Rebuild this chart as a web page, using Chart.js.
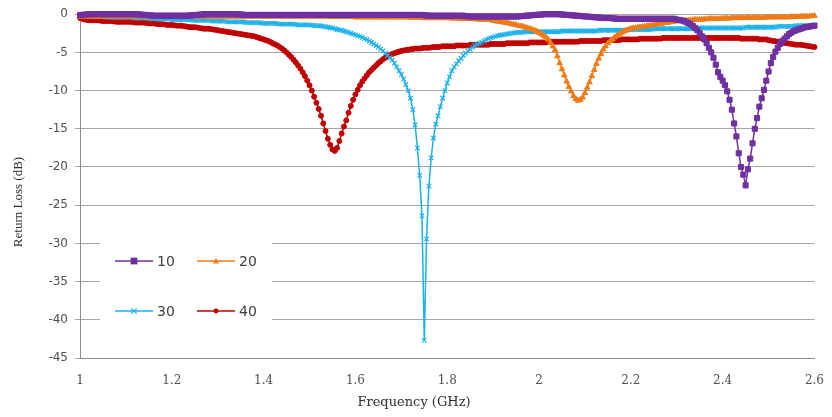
<!DOCTYPE html>
<html><head><meta charset="utf-8">
<script src="https://cdn.jsdelivr.net/npm/chart.js@4.4.1/dist/chart.umd.min.js"></script>
<style>html,body{margin:0;padding:0;background:#fff;}canvas{display:block;}</style>
</head><body>
<canvas id="c" width="832" height="417"></canvas>
<script>
// Frequency sweep (GHz), 0.005 GHz step from 1.000 to 2.600
const freq = Array.from({length: 321}, (_, i) => +(1 + i * 0.005).toFixed(3));
const seriesNames = ['10', '20', '30', '40'];
const xTicks = [1, 1.2, 1.4, 1.6, 1.8, 2, 2.2, 2.4, 2.6];
const yTicks = [0, -5, -10, -15, -20, -25, -30, -35, -40, -45];

const s10 = [
-0.1,-0.1,-0.05,-0.05,0,0,0,0,0,0, 0,0,0,0,0,0,0,0,0,0,
0,0,0,0,0,0,-0.05,-0.05,-0.1,-0.1, -0.15,-0.15,-0.2,-0.2,-0.2,-0.2,-0.2,-0.2,-0.2,-0.2,
-0.2,-0.2,-0.2,-0.2,-0.2,-0.2,-0.2,-0.2,-0.15,-0.15, -0.1,-0.1,-0.05,-0.05,0,0,0,0,0,0,
0,0,0,0,0,0,0,0,0,0, -0.05,-0.05,-0.1,-0.1,-0.1,-0.1,-0.1,-0.1,-0.1,-0.1,
-0.1,-0.1,-0.1,-0.1,-0.1,-0.1,-0.1,-0.1,-0.1,-0.1, -0.1,-0.1,-0.1,-0.1,-0.1,-0.1,-0.1,-0.1,-0.1,-0.1,
-0.1,-0.1,-0.1,-0.1,-0.1,-0.1,-0.1,-0.1,-0.1,-0.1, -0.1,-0.1,-0.1,-0.1,-0.1,-0.1,-0.1,-0.1,-0.1,-0.1,
-0.1,-0.1,-0.1,-0.1,-0.1,-0.1,-0.1,-0.1,-0.1,-0.1, -0.1,-0.1,-0.1,-0.1,-0.1,-0.1,-0.1,-0.1,-0.1,-0.1,
-0.1,-0.1,-0.1,-0.1,-0.1,-0.1,-0.1,-0.1,-0.1,-0.1, -0.15,-0.15,-0.2,-0.2,-0.2,-0.2,-0.2,-0.2,-0.2,-0.2,
-0.2,-0.2,-0.2,-0.2,-0.2,-0.2,-0.2,-0.2,-0.25,-0.25, -0.3,-0.3,-0.3,-0.3,-0.3,-0.3,-0.3,-0.3,-0.3,-0.3,
-0.3,-0.3,-0.3,-0.3,-0.3,-0.3,-0.3,-0.3,-0.3,-0.3, -0.3,-0.3,-0.25,-0.25,-0.2,-0.2,-0.15,-0.15,-0.1,-0.1,
-0.05,-0.05,0,0,0,0,0,0,0,0, -0.05,-0.05,-0.1,-0.1,-0.15,-0.15,-0.2,-0.2,-0.25,-0.25,
-0.3,-0.3,-0.35,-0.35,-0.4,-0.4,-0.45,-0.45,-0.5,-0.5, -0.5,-0.5,-0.55,-0.55,-0.6,-0.6,-0.6,-0.6,-0.6,-0.6,
-0.6,-0.6,-0.6,-0.6,-0.6,-0.6,-0.6,-0.6,-0.6,-0.6, -0.6,-0.6,-0.6,-0.6,-0.6,-0.6,-0.6,-0.6,-0.6,-0.6,
-0.7,-0.75,-0.8,-0.9,-1.0,-1.15,-1.3,-1.55,-1.8,-2.1, -2.5,-2.9,-3.3,-3.8,-4.4,-5.0,-5.7,-6.6,-7.6,-8.2,
-8.7,-9.3,-10.1,-11.2,-12.5,-14.3,-16.0,-18.2,-20.0,-21.0, -22.4,-20.3,-18.9,-16.9,-15.0,-13.6,-12.1,-11.0,-9.9,-8.7,
-7.5,-6.4,-5.6,-4.9,-4.4,-3.9,-3.5,-3.2,-2.9,-2.6, -2.4,-2.2,-2.1,-2.0,-1.9,-1.8,-1.7,-1.65,-1.6,-1.55,
-1.5];

const s20 = [
-0.3,-0.3,-0.3,-0.3,-0.3,-0.3,-0.3,-0.3,-0.3,-0.3, -0.3,-0.3,-0.3,-0.3,-0.3,-0.3,-0.3,-0.3,-0.3,-0.3,
-0.3,-0.3,-0.3,-0.3,-0.3,-0.3,-0.3,-0.3,-0.3,-0.3, -0.3,-0.3,-0.3,-0.3,-0.3,-0.3,-0.3,-0.3,-0.3,-0.3,
-0.3,-0.3,-0.3,-0.3,-0.3,-0.3,-0.3,-0.3,-0.3,-0.3, -0.3,-0.3,-0.3,-0.3,-0.3,-0.3,-0.3,-0.3,-0.3,-0.3,
-0.3,-0.3,-0.3,-0.3,-0.3,-0.3,-0.3,-0.3,-0.3,-0.3, -0.3,-0.3,-0.3,-0.3,-0.3,-0.3,-0.3,-0.3,-0.3,-0.3,
-0.3,-0.3,-0.3,-0.3,-0.3,-0.3,-0.3,-0.3,-0.3,-0.3, -0.3,-0.3,-0.3,-0.3,-0.3,-0.3,-0.3,-0.3,-0.3,-0.3,
-0.3,-0.3,-0.3,-0.3,-0.3,-0.3,-0.3,-0.3,-0.3,-0.3, -0.35,-0.35,-0.35,-0.35,-0.35,-0.35,-0.35,-0.35,-0.35,-0.35,
-0.4,-0.4,-0.4,-0.4,-0.4,-0.4,-0.4,-0.4,-0.4,-0.4, -0.4,-0.4,-0.4,-0.4,-0.4,-0.4,-0.4,-0.4,-0.4,-0.4,
-0.4,-0.4,-0.4,-0.4,-0.45,-0.45,-0.45,-0.45,-0.45,-0.45, -0.5,-0.5,-0.5,-0.5,-0.5,-0.5,-0.5,-0.5,-0.5,-0.5,
-0.5,-0.5,-0.55,-0.55,-0.55,-0.55,-0.6,-0.6,-0.6,-0.6, -0.6,-0.6,-0.65,-0.65,-0.7,-0.7,-0.7,-0.7,-0.75,-0.75,
-0.85,-0.9,-0.95,-1.0,-1.05,-1.1,-1.15,-1.2,-1.3,-1.35, -1.4,-1.5,-1.55,-1.6,-1.7,-1.8,-1.9,-2.0,-2.1,-2.25,
-2.4,-2.6,-2.8,-3.0,-3.3,-3.7,-4.2,-4.7,-5.5,-6.4, -7.2,-8.0,-8.8,-9.5,-10.1,-10.7,-11.1,-11.3,-11.2,-10.9,
-10.3,-9.6,-8.9,-8.1,-7.3,-6.5,-5.8,-5.2,-4.6,-4.2, -3.8,-3.5,-3.3,-3.0,-2.8,-2.6,-2.4,-2.25,-2.1,-2.0,
-1.9,-1.85,-1.8,-1.75,-1.7,-1.65,-1.6,-1.55,-1.5,-1.45, -1.4,-1.35,-1.3,-1.25,-1.2,-1.15,-1.1,-1.05,-1.0,-0.95,
-0.9,-0.9,-0.85,-0.85,-0.8,-0.8,-0.75,-0.75,-0.7,-0.7, -0.7,-0.7,-0.65,-0.65,-0.6,-0.6,-0.6,-0.6,-0.6,-0.6,
-0.55,-0.55,-0.55,-0.55,-0.5,-0.5,-0.5,-0.5,-0.5,-0.5, -0.45,-0.45,-0.45,-0.45,-0.45,-0.45,-0.45,-0.45,-0.45,-0.4,
-0.4,-0.4,-0.4,-0.4,-0.4,-0.4,-0.4,-0.4,-0.4,-0.4, -0.35,-0.35,-0.35,-0.35,-0.3,-0.3,-0.3,-0.3,-0.25,-0.25,
-0.2];

const s30 = [
-0.2,-0.2,-0.2,-0.25,-0.3,-0.3,-0.3,-0.3,-0.3,-0.3, -0.3,-0.35,-0.4,-0.4,-0.4,-0.4,-0.4,-0.4,-0.4,-0.4,
-0.4,-0.4,-0.4,-0.45,-0.5,-0.5,-0.5,-0.5,-0.5,-0.5, -0.5,-0.55,-0.6,-0.6,-0.6,-0.6,-0.6,-0.6,-0.6,-0.65,
-0.7,-0.7,-0.7,-0.7,-0.7,-0.7,-0.7,-0.7,-0.75,-0.8, -0.8,-0.8,-0.8,-0.8,-0.8,-0.8,-0.8,-0.85,-0.9,-0.9,
-0.9,-0.9,-0.9,-0.9,-1.0,-1.0,-1.0,-1.0,-1.0,-1.0, -1.0,-1.0,-1.05,-1.1,-1.1,-1.1,-1.1,-1.1,-1.1,-1.15,
-1.2,-1.2,-1.2,-1.2,-1.2,-1.2,-1.25,-1.3,-1.3,-1.3, -1.3,-1.3,-1.3,-1.3,-1.35,-1.4,-1.4,-1.4,-1.4,-1.4,
-1.4,-1.45,-1.5,-1.5,-1.5,-1.55,-1.6,-1.65,-1.7,-1.75, -1.8,-1.9,-2.0,-2.05,-2.1,-2.2,-2.3,-2.4,-2.5,-2.6,
-2.7,-2.8,-2.9,-3.05,-3.2,-3.35,-3.5,-3.7,-3.9,-4.1, -4.3,-4.55,-4.8,-5.1,-5.4,-5.7,-6.0,-6.4,-6.9,-7.4,
-7.9,-8.5,-9.2,-10.0,-11.0,-12.5,-14.5,-17.5,-21.1,-26.4, -42.7,-29.4,-22.5,-18.8,-16.2,-14.4,-13.3,-12.1,-11.0,-10.0,
-9.0,-8.2,-7.4,-6.9,-6.5,-6.1,-5.8,-5.4,-5.1,-4.8, -4.6,-4.35,-4.1,-3.95,-3.8,-3.65,-3.5,-3.35,-3.2,-3.1,
-3.0,-2.9,-2.8,-2.75,-2.7,-2.65,-2.6,-2.55,-2.5,-2.45, -2.4,-2.4,-2.4,-2.35,-2.3,-2.3,-2.3,-2.3,-2.3,-2.3,
-2.3,-2.3,-2.3,-2.3,-2.3,-2.3,-2.3,-2.3,-2.3,-2.3, -2.2,-2.2,-2.2,-2.2,-2.2,-2.2,-2.2,-2.2,-2.2,-2.2,
-2.2,-2.2,-2.2,-2.2,-2.2,-2.2,-2.1,-2.1,-2.1,-2.1, -2.1,-2.1,-2.1,-2.1,-2.1,-2.1,-2.1,-2.1,-2.1,-2.0,
-2.0,-2.0,-2.0,-2.0,-2.0,-2.0,-2.0,-2.0,-2.0,-2.0, -1.9,-1.9,-1.9,-1.9,-1.9,-1.9,-1.9,-1.9,-1.9,-1.9,
-1.9,-1.9,-1.9,-1.9,-1.9,-1.9,-1.9,-1.9,-1.9,-1.9, -1.8,-1.8,-1.8,-1.8,-1.8,-1.8,-1.8,-1.8,-1.8,-1.8,
-1.8,-1.8,-1.8,-1.8,-1.8,-1.8,-1.8,-1.8,-1.8,-1.8, -1.7,-1.7,-1.7,-1.7,-1.7,-1.7,-1.7,-1.7,-1.7,-1.7,
-1.7,-1.7,-1.7,-1.7,-1.6,-1.6,-1.6,-1.6,-1.6,-1.6, -1.6,-1.6,-1.5,-1.5,-1.5,-1.5,-1.5,-1.5,-1.5,-1.5,
-1.4];

const s40 = [
-0.5,-0.6,-0.7,-0.75,-0.8,-0.8,-0.8,-0.8,-0.8,-0.85, -0.9,-0.9,-0.9,-0.9,-0.9,-0.95,-1.0,-1.0,-1.0,-1.0,
-1.0,-1.0,-1.0,-1.05,-1.1,-1.1,-1.1,-1.1,-1.1,-1.15, -1.2,-1.2,-1.2,-1.25,-1.3,-1.3,-1.3,-1.35,-1.4,-1.4,
-1.4,-1.45,-1.5,-1.5,-1.5,-1.55,-1.6,-1.65,-1.7,-1.7, -1.7,-1.75,-1.8,-1.85,-1.9,-1.9,-1.9,-1.95,-2.0,-2.05,
-2.1,-2.15,-2.2,-2.25,-2.3,-2.35,-2.4,-2.45,-2.5,-2.55, -2.6,-2.65,-2.7,-2.75,-2.8,-2.85,-2.9,-3.0,-3.1,-3.2,
-3.3,-3.4,-3.5,-3.65,-3.8,-3.95,-4.1,-4.3,-4.5,-4.75, -5.0,-5.3,-5.6,-5.95,-6.3,-6.7,-7.1,-7.6,-8.1,-8.7,
-9.3,-10.0,-10.8,-11.6,-12.4,-13.3,-14.3,-15.3,-16.3,-17.1, -17.7,-17.9,-17.5,-16.6,-15.6,-14.7,-13.9,-12.9,-12.0,-11.2,
-10.5,-9.9,-9.3,-8.8,-8.4,-8.0,-7.6,-7.3,-7.0,-6.7, -6.4,-6.15,-5.9,-5.7,-5.5,-5.35,-5.2,-5.1,-5.0,-4.9,
-4.8,-4.75,-4.7,-4.65,-4.6,-4.55,-4.5,-4.5,-4.5,-4.45, -4.4,-4.4,-4.4,-4.35,-4.3,-4.3,-4.3,-4.25,-4.2,-4.2,
-4.2,-4.2,-4.2,-4.2,-4.1,-4.1,-4.1,-4.1,-4.1,-4.1, -4.0,-4.0,-4.0,-4.0,-4.0,-4.0,-4.0,-4.0,-4.0,-3.9,
-3.9,-3.9,-3.9,-3.9,-3.9,-3.9,-3.8,-3.8,-3.8,-3.8, -3.8,-3.8,-3.8,-3.8,-3.8,-3.8,-3.7,-3.7,-3.7,-3.7,
-3.7,-3.7,-3.7,-3.7,-3.6,-3.6,-3.6,-3.6,-3.6,-3.6, -3.6,-3.6,-3.6,-3.6,-3.6,-3.6,-3.6,-3.6,-3.5,-3.5,
-3.5,-3.5,-3.5,-3.5,-3.5,-3.5,-3.5,-3.5,-3.4,-3.4, -3.4,-3.4,-3.4,-3.4,-3.4,-3.4,-3.3,-3.3,-3.3,-3.3,
-3.3,-3.3,-3.3,-3.3,-3.2,-3.2,-3.2,-3.2,-3.2,-3.2, -3.2,-3.2,-3.2,-3.2,-3.1,-3.1,-3.1,-3.1,-3.1,-3.1,
-3.1,-3.1,-3.1,-3.1,-3.1,-3.1,-3.1,-3.1,-3.1,-3.1, -3.1,-3.1,-3.1,-3.1,-3.1,-3.1,-3.1,-3.1,-3.1,-3.1,
-3.1,-3.1,-3.1,-3.1,-3.1,-3.1,-3.1,-3.1,-3.2,-3.2, -3.2,-3.2,-3.2,-3.2,-3.2,-3.2,-3.3,-3.3,-3.3,-3.3,
-3.4,-3.45,-3.5,-3.55,-3.6,-3.65,-3.7,-3.75,-3.8,-3.85, -3.9,-3.95,-4.0,-4.0,-4.0,-4.05,-4.1,-4.15,-4.2,-4.25,
-4.3];

const colors = ['#7030A0', '#EE7B17', '#1DB1EA', '#C00000'];
const styles = ['rect', 'triangle', 'crossRot', 'circle'];
const radii = [3.6, 3.2, 3.2, 2.5];
const seriesValues = [s10, s20, s30, s40];

const datasets = seriesValues.map((vals, k) => ({
  label: seriesNames[k],
  data: freq.map((f, i) => ({x: f, y: vals[i]})),
  borderColor: colors[k],
  backgroundColor: colors[k],
  pointBackgroundColor: colors[k],
  pointBorderColor: colors[k],
  pointStyle: styles[k],
  pointRadius: radii[k],
  pointBorderWidth: k === 2 ? 1.2 : 1,
  borderWidth: 1.5,
  tension: 0,
  clip: false
}));

const overlay = {
  id: 'overlay',
  beforeDatasetsDraw(chart) {
    const ctx = chart.ctx;
    ctx.save();
    ctx.fillStyle = '#ffffff';
    ctx.fillRect(100, 228, 172, 114);
    const pos = [[115, 261], [197, 261], [115, 311], [197, 311]];
    for (let k = 0; k < 4; k++) {
      const [x0, y] = pos[k];
      ctx.strokeStyle = colors[k];
      ctx.lineWidth = 1.3;
      ctx.beginPath(); ctx.moveTo(x0, y); ctx.lineTo(x0 + 38, y); ctx.stroke();
      const cx = x0 + 19;
      ctx.fillStyle = colors[k];
      ctx.beginPath();
      if (k === 0) { ctx.rect(cx - 3.4, y - 3.4, 6.8, 6.8); ctx.fill(); }
      else if (k === 1) { ctx.moveTo(cx, y - 3); ctx.lineTo(cx + 3, y + 2.5); ctx.lineTo(cx - 3, y + 2.5); ctx.closePath(); ctx.fill(); }
      else if (k === 2) { ctx.lineWidth = 1.2; ctx.moveTo(cx - 2.7, y - 2.7); ctx.lineTo(cx + 2.7, y + 2.7); ctx.moveTo(cx + 2.7, y - 2.7); ctx.lineTo(cx - 2.7, y + 2.7); ctx.stroke(); }
      else { ctx.arc(cx, y, 2.4, 0, Math.PI * 2); ctx.fill(); }
      ctx.fillStyle = '#404040';
      ctx.font = '14px "DejaVu Sans"';
      ctx.textBaseline = 'middle';
      ctx.textAlign = 'left';
      ctx.fillText(seriesNames[k], x0 + 42, y + 1);
    }
    ctx.restore();
  },
  afterDraw(chart) {
    const ctx = chart.ctx;
    ctx.save();
    ctx.fillStyle = '#303030';
    ctx.font = '13px "DejaVu Serif"';
    ctx.textAlign = 'center';
    ctx.textBaseline = 'middle';
    ctx.fillText('Frequency (GHz)', 414, 403);
    ctx.translate(19, 202);
    ctx.rotate(-Math.PI / 2);
    ctx.font = '13px "Liberation Serif"';
    ctx.fillText('Return Loss (dB)', 0, 0);
    ctx.restore();
  }
};

new Chart(document.getElementById('c'), {
  type: 'line',
  data: { datasets },
  plugins: [overlay],
  options: {
    responsive: false,
    animation: false,
    devicePixelRatio: 1,
    layout: { padding: { left: 0, top: 12, right: 14, bottom: 0 } },
    plugins: { legend: { display: false }, tooltip: { enabled: false } },
    scales: {
      x: {
        type: 'linear',
        min: xTicks[0], max: xTicks[xTicks.length - 1],
        afterBuildTicks: s => { s.ticks = xTicks.map(v => ({value: v})); },
        afterFit: s => { s.height = 59; },
        grid: { display: false },
        border: { display: true, color: '#8c8c8c', width: 1 },
        ticks: { padding: 8, color: '#505050', font: { family: 'DejaVu Serif', size: 12 }, maxRotation: 0,
          callback: v => String(+v.toFixed(1)) }
      },
      y: {
        min: yTicks[yTicks.length - 1], max: yTicks[0],
        afterBuildTicks: s => { s.ticks = yTicks.slice().reverse().map(v => ({value: v})); },
        afterFit: s => { s.width = 80; },
        grid: { color: '#a6a6a6', lineWidth: 1, tickLength: 5, drawTicks: true },
        border: { display: true, color: '#8c8c8c', width: 1 },
        ticks: { padding: 7, color: '#505050', font: { family: 'DejaVu Sans', size: 12 },
          callback: v => String(v) }
      }
    }
  }
});
</script>
</body></html>
